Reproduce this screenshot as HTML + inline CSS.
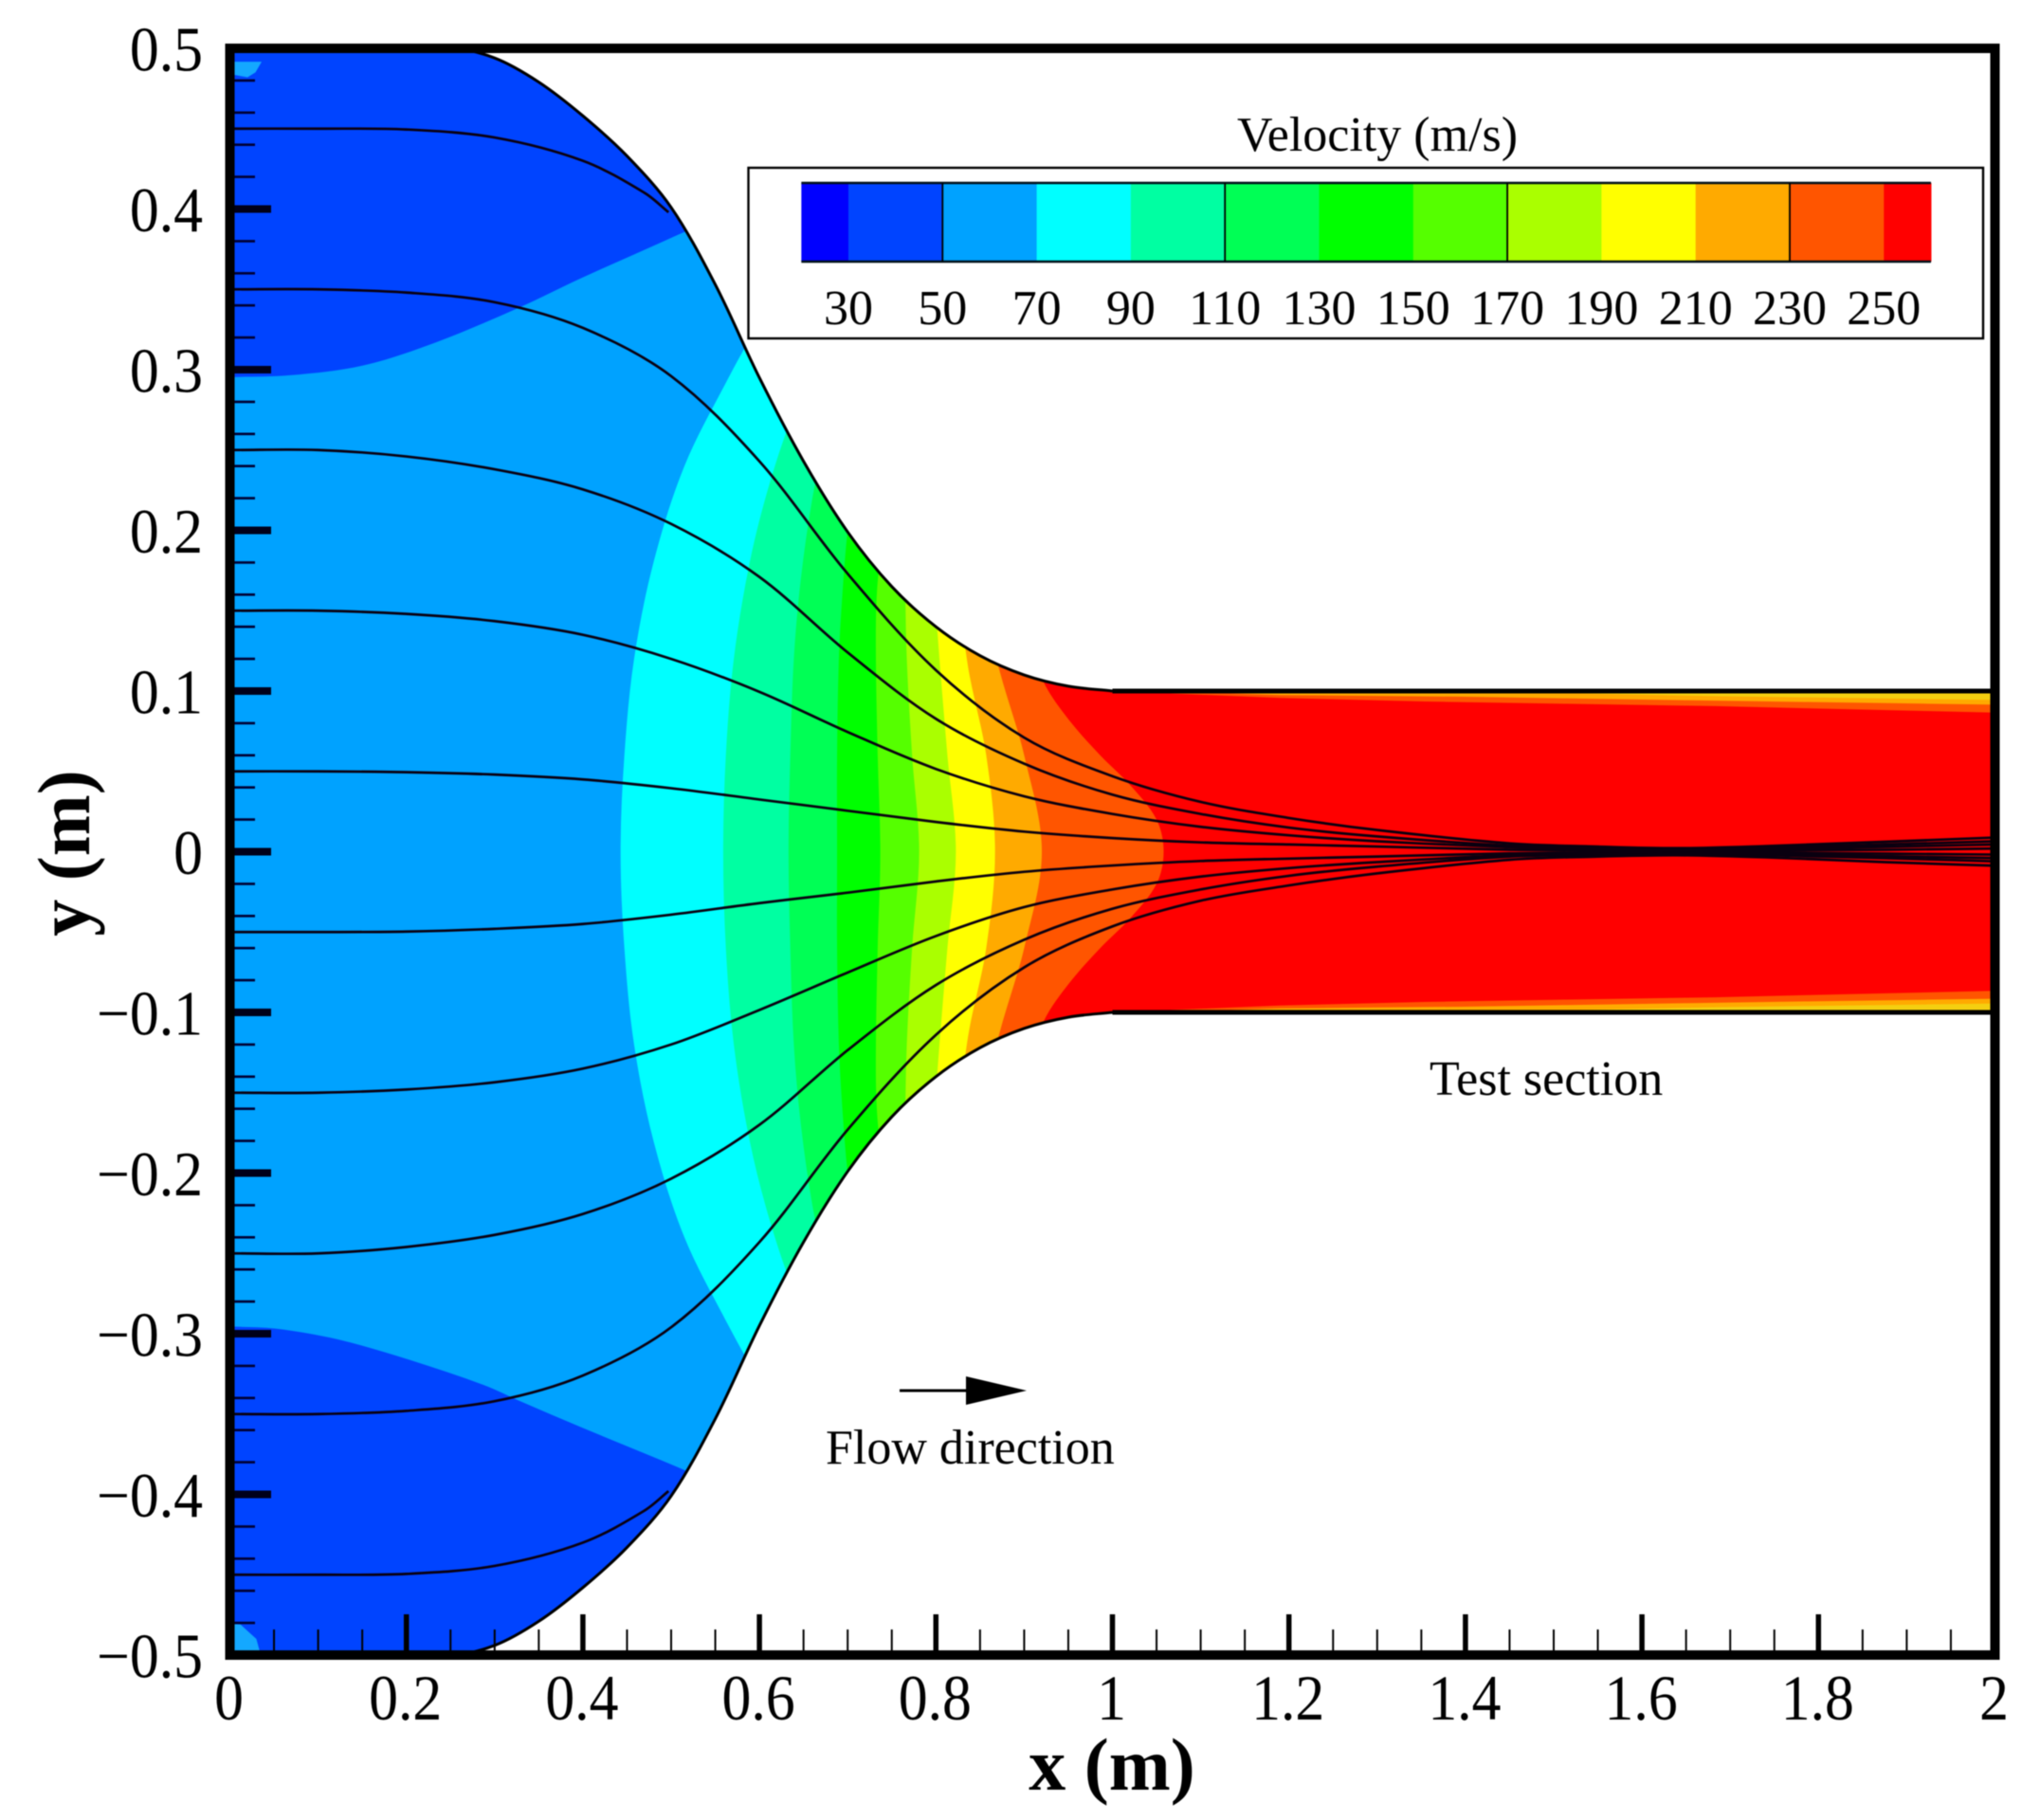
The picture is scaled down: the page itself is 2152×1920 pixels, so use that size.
<!DOCTYPE html>
<html lang="en">
<head>
<meta charset="utf-8">
<title>Velocity contours in a wind tunnel contraction</title>
<style>
html,body{margin:0;padding:0;background:#fff;width:2152px;height:1920px;overflow:hidden}
svg{display:block;filter:blur(.6px)}
text{font-family:"Liberation Serif","Times New Roman",serif;fill:#000}
</style>
</head>
<body>
<svg id="chart" xmlns="http://www.w3.org/2000/svg" width="2152" height="1920" viewBox="0 0 2152 1920">
  <defs><clipPath id="channel-clip"><path id="channel-clip-path" d=""></path></clipPath></defs>
  <g id="field" clip-path="url(#channel-clip)"></g>
  <g id="streamlines" clip-path="url(#channel-clip)"></g>
  <g id="walls"></g>
  <g id="ticks"></g>
  <g id="frame"></g>
  <g id="tick-labels"></g>
  <text x="1173" y="1888" font-size="78" font-weight="bold" text-anchor="middle">x (m)</text>
  <text transform="translate(94,900) rotate(-90)" font-size="78" font-weight="bold" text-anchor="middle">y (m)</text>
  <text x="1453" y="159" font-size="52" text-anchor="middle">Velocity (m/s)</text>
  <rect x="789.5" y="177" width="1302.5" height="180" fill="none" stroke="#000" stroke-width="2.4"></rect>
  <g id="legend"></g>
  <text x="1508" y="1155" font-size="52">Test section</text>
  <text x="871" y="1544" font-size="52">Flow direction</text>
  <g>
    <line x1="949" y1="1467" x2="1022" y2="1467" stroke="#000" stroke-width="3"></line>
    <polygon points="1019,1452 1083,1467 1019,1482" fill="#000"></polygon>
  </g>
</svg>
<script>
// ---- Axis ticks ----
const xTickValues=[0,0.2,0.4,0.6,0.8,1,1.2,1.4,1.6,1.8,2];
const xTickLabels=['0','0.2','0.4','0.6','0.8','1','1.2','1.4','1.6','1.8','2'];
const yTickValues=[0.5,0.4,0.3,0.2,0.1,0,-0.1,-0.2,-0.3,-0.4,-0.5];
const yTickLabels=['0.5','0.4','0.3','0.2','0.1','0','\u22120.1','\u22120.2','\u22120.3','\u22120.4','\u22120.5'];

// ---- Legend ----
const legendLevels=[30,50,70,90,110,130,150,170,190,210,230,250];
const legendColors=['#0000ff','#0044ff','#00a2ff','#00ffff','#00ffa2','#00ff55','#00ff00','#55ff00','#aaff00','#ffff00','#ffaa00','#ff5500','#ff0000'];
const legendRange=[20,260];
const legendDividers=[50,110,170,230];

// ---- Channel wall, upper half (metres) ----
const wallX=[0,0.25,0.3,0.35,0.4,0.45,0.5,0.55,0.6,0.65,0.7,0.75,0.8,0.85,0.9,0.95,1,2];
const wallY=[0.5,0.5,0.494,0.479,0.458,0.433,0.401,0.353,0.295,0.243,0.199,0.165,0.14,0.122,0.11,0.103,0.1,0.1];

// ---- Velocity contour lines, [x,|y|] in metres, mirrored about y=0 ----
const contour70=[[0.4427,0],[0.447,0.06],[0.458,0.12],[0.48,0.18],[0.515,0.24],[0.565,0.295],[0.6,0.33]];
const contour90=[[0.559,0],[0.562,0.06],[0.571,0.12],[0.589,0.18],[0.612,0.23],[0.64,0.275],[0.67,0.31]];
const contour110=[[0.633,0],[0.635,0.06],[0.639,0.12],[0.647,0.17],[0.66,0.22],[0.672,0.25]];
const contour130=[[0.688,0],[0.688,0.06],[0.69,0.12],[0.694,0.16],[0.7,0.2],[0.71,0.24]];
const contour150=[[0.737,0],[0.734,0.06],[0.732,0.12],[0.733,0.16],[0.74,0.2]];
const contour170=[[0.781,0],[0.773,0.06],[0.767,0.12],[0.765,0.17]];
const contour190=[[0.8226,0],[0.813,0.06],[0.804,0.12],[0.8,0.15]];
const contour210=[[0.867,0],[0.857,0.06],[0.838,0.11],[0.83,0.14]];
const contour230=[[0.92,0],[0.9,0.06],[0.876,0.105],[0.866,0.125]];
const contour250=[[1.058,0],[1.05,0.02],[1.02,0.0415],[0.987,0.0595],[0.954,0.0798],[0.926,0.1014],[0.912,0.12]];

// ---- Low velocity corner regions ----
const corner50Top=[[0,0.2953],[0.068,0.2965],[0.15,0.3025],[0.233,0.3169],[0.328,0.3387],[0.397,0.3567],[0.504,0.383],[0.56,0.397]];
const corner50Bottom=[[0,-0.2955],[0.052,-0.2968],[0.123,-0.3036],[0.205,-0.3165],[0.288,-0.332],[0.331,-0.3425],[0.397,-0.358],[0.507,-0.383],[0.56,-0.396]];
const patchTop=[[0,0.4917],[0.036,0.4917],[0.029,0.485],[0.02,0.482],[0,0.484]];
const patchBottom=[[0,-0.4805],[0.012,-0.481],[0.03,-0.49],[0.034,-0.498],[0,-0.498]];

// ---- Boundary-layer contours in the test section, [x,|y|] ----
const layer250=[[1,0.1],[1.19,0.0957],[1.353,0.0935],[1.683,0.0906],[2,0.0866]];
const layer230=[[1.05,0.1],[1.19,0.0975],[1.392,0.0965],[1.683,0.094],[2,0.0915]];
const layer210=[[1.4,0.1],[1.68,0.0968],[2,0.0945]];

// ---- Streamlines (metres) ----
const streamX=[0,0.1,0.2,0.3,0.4,0.5,0.6,0.7,0.8,0.9,1,1.1,1.2,1.3,1.45,1.55,1.64,1.74,1.876,2];
const streamYP35=[0.35,0.35,0.348,0.342,0.326,0.296,0.243,0.173,0.113,0.071,0.047,0.031,0.021,0.0135,0.0052,0.0032,0.0022,0.0035,0.0062,0.0088];
const streamYP25=[0.25,0.25,0.246,0.238,0.2255,0.204,0.171,0.124,0.0827,0.0548,0.0355,0.0235,0.015,0.0095,0.0038,0.0024,0.0016,0.0025,0.0045,0.0065];
const streamYP15=[0.15,0.15,0.148,0.1435,0.135,0.12,0.0995,0.0745,0.0515,0.0345,0.0235,0.0155,0.0102,0.0065,0.0028,0.0016,0.001,0.0016,0.003,0.0045];
const streamYP05=[0.05,0.05,0.0495,0.048,0.045,0.0395,0.0325,0.0255,0.0185,0.0125,0.0085,0.0058,0.0045,0.0032,0.0012,0.0007,0.0004,0.0007,0.0012,0.002];
const streamYM05=[-0.05,-0.05,-0.0497,-0.048,-0.045,-0.0392,-0.032,-0.0255,-0.0185,-0.0125,-0.0086,-0.0058,-0.0043,-0.003,-0.001,-0.0006,-0.0003,-0.0006,-0.0012,-0.0018];
const streamYM15=[-0.15,-0.15,-0.148,-0.1435,-0.135,-0.12,-0.0985,-0.0752,-0.0525,-0.0345,-0.0235,-0.0155,-0.0102,-0.0065,-0.0022,-0.0014,-0.001,-0.0014,-0.0028,-0.004];
const streamYM25=[-0.25,-0.25,-0.246,-0.2385,-0.2255,-0.2035,-0.17,-0.1235,-0.083,-0.0548,-0.0355,-0.0235,-0.015,-0.0093,-0.003,-0.002,-0.0016,-0.0022,-0.004,-0.006];
const streamYM35=[-0.35,-0.35,-0.348,-0.342,-0.326,-0.296,-0.243,-0.173,-0.114,-0.072,-0.0465,-0.0305,-0.021,-0.0135,-0.005,-0.003,-0.0022,-0.0035,-0.0065,-0.0087];
const streamShortX=[0,0.1,0.2,0.3,0.4,0.47,0.497];
const streamYP45=[0.45,0.45,0.4495,0.4445,0.43,0.41,0.398];
const streamYM45=[-0.45,-0.45,-0.4495,-0.4445,-0.43,-0.41,-0.398];

// ---- Axis functions ----
const X=v=>242.5+931*v;
const Y=v=>898.5-1695*v;
const LX=v=>895+(v-30)*4.965;
const NS='http://www.w3.org/2000/svg';
function make(tag,parent,attrs){
  const el=document.createElementNS(NS,tag);
  for(const k in attrs)el.setAttribute(k,attrs[k]);
  parent.appendChild(el);
  return el;
}
// Smooth path through data points with chord-scaled tangents.
function splineSeg(pts,first){
  const p=pts.map(q=>[X(q[0]),Y(q[1])]);
  let d=(first?'M':'L')+p[0][0].toFixed(2)+' '+p[0][1].toFixed(2);
  const tan=i=>{
    const a=p[Math.max(i-1,0)],b=p[Math.min(i+1,p.length-1)];
    const dx=b[0]-a[0],dy=b[1]-a[1],n=Math.hypot(dx,dy)||1;
    return [dx/n,dy/n];
  };
  for(let i=0;i<p.length-1;i++){
    const L=Math.hypot(p[i+1][0]-p[i][0],p[i+1][1]-p[i][1])/3;
    const t0=tan(i),t1=tan(i+1);
    d+=' C'+(p[i][0]+t0[0]*L).toFixed(2)+' '+(p[i][1]+t0[1]*L).toFixed(2)+' '+(p[i+1][0]-t1[0]*L).toFixed(2)+' '+(p[i+1][1]-t1[1]*L).toFixed(2)+' '+p[i+1][0].toFixed(2)+' '+p[i+1][1].toFixed(2);
  }
  return d;
}
const L=(x,y)=>' L'+X(x).toFixed(2)+' '+Y(y).toFixed(2);
const mirror=c=>c.slice(1).reverse().map(q=>[q[0],-q[1]]).concat(c);
function bandPath(c){
  const m=mirror(c),e=c[c.length-1];
  return splineSeg(m,true)+L(e[0],0.6)+L(2.2,0.6)+L(2.2,-0.6)+L(e[0],-0.6)+' Z';
}
function polyPath(c){
  return c.map((q,i)=>(i?'L':'M')+X(q[0]).toFixed(2)+' '+Y(q[1]).toFixed(2)).join(' ')+' Z';
}
function layerPath(c,sign){
  const s=c.map(q=>[q[0],q[1]*sign]);
  return polyPath(s.concat([[2.2,s[s.length-1][1]],[2.2,0.11*sign],[s[0][0],0.11*sign]]));
}

// ---- Channel outline ----
const wallTop=wallX.map((x,i)=>[x,wallY[i]]);
const wallBottom=wallX.map((x,i)=>[x,-wallY[i]]);
const curveEnd=wallX.indexOf(1);
const channelPath=splineSeg(wallTop,true)+splineSeg(wallBottom.slice().reverse(),false)+' Z';
document.getElementById('channel-clip-path').setAttribute('d',channelPath);

// ---- Field ----
const field=document.getElementById('field');
const baseFill=make('rect',field,{x:X(0)-10,y:Y(0.5)-10,width:X(2)-X(0)+20,height:Y(-0.5)-Y(0.5)+20,fill:legendColors[2]});



const cornerTop=make('path',field,{d:splineSeg(corner50Top,true)+L(0.56,0.6)+L(0,0.6)+' Z',fill:legendColors[1]});


const cornerBottom=make('path',field,{d:splineSeg(corner50Bottom,true)+L(0.56,-0.6)+L(0,-0.6)+' Z',fill:legendColors[1]});


const patchA=make('path',field,{d:polyPath(patchTop),fill:'#14a8ff'});


const patchB=make('path',field,{d:polyPath(patchBottom),fill:'#14a8ff'});



[contour70,contour90,contour110,contour130,contour150,contour170,contour190,contour210,contour230,contour250].forEach((c,i)=>{
  const band=make('path',field,{d:bandPath(c),fill:legendColors[i+3]});
  
  
});
[[layer250,legendColors[11]],[layer230,legendColors[10]],[layer210,'#f4cf10']].forEach(pair=>{
  [1,-1].forEach(sign=>{
    const strip=make('path',field,{d:layerPath(pair[0],sign),fill:pair[1]});
    
    
  });
});

// ---- Streamlines ----
const streamGroup=document.getElementById('streamlines');
[[streamShortX,streamYP45],[streamX,streamYP35],[streamX,streamYP25],[streamX,streamYP15],[streamX,streamYP05],[streamX,streamYM05],[streamX,streamYM15],[streamX,streamYM25],[streamX,streamYM35],[streamShortX,streamYM45]].forEach(s=>{
  const pts=s[0].map((x,i)=>[x,s[1][i]]);
  const line=make('path',streamGroup,{d:splineSeg(pts,true),fill:'none',stroke:'#0a0010','stroke-width':2.7});
  
  
});

// ---- Walls ----
const wallGroup=document.getElementById('walls');
[wallTop,wallBottom].forEach(w=>{
  const curve=make('path',wallGroup,{d:splineSeg(w.slice(0,curveEnd+1),true),fill:'none',stroke:'#000','stroke-width':3});
  
  
  const straight=make('line',wallGroup,{x1:X(1),y1:Y(w[curveEnd][1]),x2:X(2),y2:Y(w[curveEnd][1]),stroke:'#000','stroke-width':5});
  
  
});

// ---- Ticks ----
const tickGroup=document.getElementById('ticks');
for(let i=0;i<=50;i++){
  const v=-0.5+i*0.02,major=i%5===0;
  const t=make('line',tickGroup,{x1:X(0),x2:major?286:269,y1:Y(v),y2:Y(v),stroke:major?'#00001a':'#000033','stroke-width':major?8:2.6});
  
  
}
for(let i=0;i<=40;i++){
  const v=i*0.05,major=i%4===0;
  const t=make('line',tickGroup,{x1:X(v),x2:X(v),y1:Y(-0.5),y2:major?1703:1719,stroke:'#000','stroke-width':major?5.5:2});
  
  
}

// ---- Frame ----
const frameGroup=document.getElementById('frame');
const frameRect=make('rect',frameGroup,{x:X(0),y:Y(0.5),width:X(2)-X(0),height:Y(-0.5)-Y(0.5),fill:'none',stroke:'#000','stroke-width':10});



// ---- Tick labels ----
const labelGroup=document.getElementById('tick-labels');
yTickValues.forEach((v,i)=>{
  const t=make('text',labelGroup,{transform:'translate(214,'+(Y(v)+23.5)+') scale(0.98,1.06)','font-size':63,'text-anchor':'end'});
  t.textContent=yTickLabels[i];
  
  
});
xTickValues.forEach((v,i)=>{
  const t=make('text',labelGroup,{transform:'translate('+(X(v)-1)+',1814) scale(0.98,1.08)','font-size':63,'text-anchor':'middle'});
  t.textContent=xTickLabels[i];
  
  
});

// ---- Legend ----
const legendGroup=document.getElementById('legend');
const legendEdges=[legendRange[0]].concat(legendLevels,[legendRange[1]]);
legendColors.forEach((c,i)=>{
  const r=make('rect',legendGroup,{x:LX(legendEdges[i]),y:193,width:LX(legendEdges[i+1])-LX(legendEdges[i])+0.5,height:83,fill:c});
  
  
});
const legendOutline=make('path',legendGroup,{d:'M'+LX(legendRange[0])+' 193 H'+LX(legendRange[1])+' M'+LX(legendRange[0])+' 276 H'+LX(legendRange[1]),stroke:'#001018','stroke-width':2.4,fill:'none'});


legendDividers.forEach(v=>{
  const d=make('line',legendGroup,{x1:LX(v),x2:LX(v),y1:193,y2:276,stroke:'#000','stroke-width':1.8});
  
  
});
legendLevels.forEach(v=>{
  const t=make('text',legendGroup,{x:LX(v),y:342,'font-size':52,'text-anchor':'middle'});
  t.textContent=String(v);
  
  
});
</script>
</body>
</html>
